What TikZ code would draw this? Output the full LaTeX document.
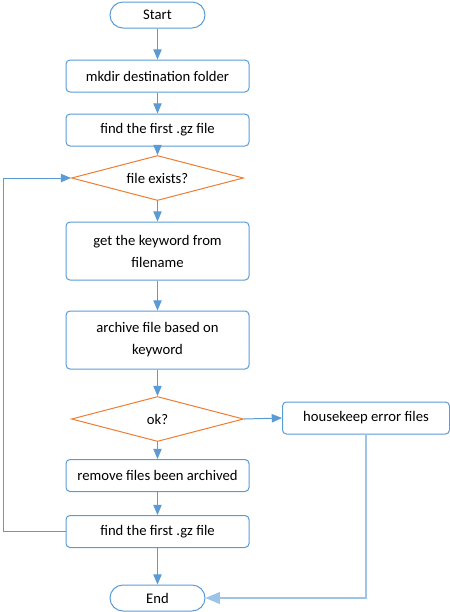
\documentclass[tikz,border=0pt]{standalone}
\usepackage{fontspec}
\setmainfont{Carlito}
\usetikzlibrary{arrows,shapes.geometric}
\definecolor{flowblue}{HTML}{5B9BD5}
\definecolor{paleblue}{HTML}{9DC3E6}
\definecolor{testorange}{HTML}{ED7D31}

\begin{document}
\begin{tikzpicture}[x=0.75pt, y=-0.75pt,
    terminal/.style={rectangle, draw=flowblue, rounded corners=9.75pt, inner sep=0pt,
        minimum width=71.25pt, minimum height=19.5pt, font=\fontsize{11}{16}\selectfont},
    process/.style={rectangle, draw=flowblue, rounded corners=3pt, inner sep=0pt,
        minimum width=137.25pt, minimum height=24pt, align=center,
        font=\fontsize{11}{16.5}\selectfont},
    tall/.style={process, minimum height=43.5pt},
    test/.style={diamond, draw=testorange, aspect=3.8, inner sep=0pt,
        minimum width=129pt, minimum height=33.75pt, font=\fontsize{11}{16}\selectfont},
    flow/.style={draw=flowblue, line width=0.75pt, -triangle 45},
    line width=0.75pt
]
\useasboundingbox (0,0) rectangle (450,612);

\node (Start) [terminal] at (157.5,15) {Start};
\node (Mkdir) [process] at (157.5,76) {mkdir destination folder};
\node (FindFirst) [process] at (157.5,130) {find the first .gz file};
\node (FileExists) [test] at (157.5,178) {file exists?};
\node (Keyword) [tall] at (157.5,251) {get the keyword from\\filename};
\node (Archive) [tall] at (157.5,340) {archive file based on\\keyword};
\node (Ok) [test] at (157.5,419) {ok?};
\node (Housekeep) [process, minimum width=125.25pt] at (366,418) {housekeep error files};
\node (Remove) [process] at (157.5,475.5) {remove files been archived};
\node (FindNext) [process] at (157.5,531.5) {find the first .gz file};
\node (End) [terminal] at (157.5,598) {End};

\coordinate (LoopBottom) at (3,531.5);
\coordinate (LoopTop) at (3,178);

\draw[flow] (Start) -- (Mkdir);
\draw[flow] (Mkdir) -- (FindFirst);
\draw[flow] (FindFirst) -- (FileExists);
\draw[flow] (FileExists) -- (Keyword);
\draw[flow] (Keyword) -- (Archive);
\draw[flow] (Archive) -- (Ok);
\draw[flow] (Ok) -- (Remove);
\draw[flow] (Remove) -- (FindNext);
\draw[flow] (FindNext) -- (End);
\draw[flow] (Ok.east) -- (Housekeep.west);
\draw[flow] (FindNext.west) -- (LoopBottom) -- (LoopTop) -- (FileExists.west);
\draw[flow, draw=paleblue, line width=1.5pt] (Housekeep.south) |- (End.east);

\end{tikzpicture}
\end{document}
